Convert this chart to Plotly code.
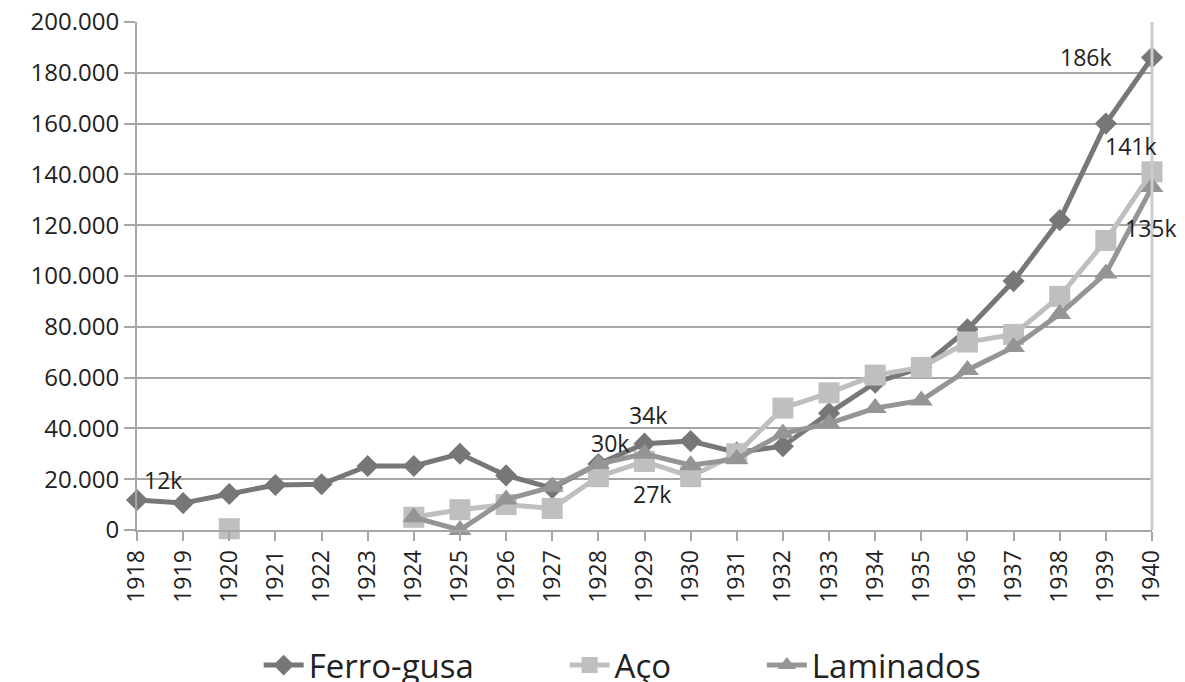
import plotly.graph_objects as go

years = list(range(1918, 1941))
ferro_gusa = [11800, 10600, 14200, 17700, 18000, 25200, 25200, 30000, 21500, 16500, 26000, 34000,
              35000, 30500, 33000, 46000, 58000, 64000, 79000, 98000, 122000, 160000, 186000]
aco = [None, None, 500, None, None, None, 5000, 8000, 10000, 8500, 21000, 27000,
       21000, 30000, 48000, 54000, 61000, 64000, 74000, 77000, 92000, 114000, 141000]
laminados = [None, None, None, None, None, None, 5000, 0, 12000, 17000, 26000, 30000,
             25500, 28000, 38000, 42000, 48000, 51000, 63000, 72000, 85000, 101000, 135000]

NB = "\u00a0"
series = [
    ("Ferro-gusa" + NB * 10, ferro_gusa, "#777777", "diamond", 17),
    ("Aço" + NB * 10, aco, "#bfbfbf", "square", 21),
    ("Laminados", laminados, "#959595", "triangle-up", 20),
]

fig = go.Figure()
for name, vals, color, sym, size in series:
    fig.add_trace(go.Scatter(
        x=years, y=vals, name=name, mode="lines+markers",
        line=dict(color=color, width=5),
        marker=dict(symbol=sym, size=size, color=color),
        cliponaxis=False, connectgaps=False,
    ))

# data labels: (series values, year, xshift, yshift, text)
labels = [
    (ferro_gusa, 1918, 26, 20, "12k"),
    (ferro_gusa, 1929, 3, 29, "34k"),
    (laminados, 1929, -35, 11, "30k"),
    (aco, 1929, 7, -33, "27k"),
    (ferro_gusa, 1940, -66, 1, "186k"),
    (aco, 1940, -21, 26, "141k"),
    (laminados, 1940, -1, -41, "135k"),
]
for vals, yr, xs, ys, txt in labels:
    fig.add_annotation(x=yr, y=vals[years.index(yr)], text=txt, showarrow=False,
                       xshift=xs, yshift=ys, font=dict(size=23, color="#222222"))

fig.update_layout(
    width=1177, height=674,
    margin=dict(l=129, r=33, t=14, b=152, autoexpand=False),
    paper_bgcolor="white", plot_bgcolor="white",
    font=dict(family="Open Sans", color="#222222"),
    separators=",.",
    showlegend=True,
    legend=dict(orientation="h", x=0.478, xanchor="center", y=-0.266, yanchor="middle",
                font=dict(size=33, color="#222222"), itemwidth=40, tracegroupgap=0,
                bgcolor="rgba(0,0,0,0)"),
    xaxis=dict(range=[1918, 1940], tickmode="array", tickvals=years,
               ticktext=[str(y) for y in years], tickangle=-90,
               tickfont=dict(size=23), ticks="outside", ticklen=9, tickcolor="#a6a6a6",
               tickwidth=2, showline=True, linecolor="#a6a6a6", linewidth=2, showgrid=False,
               mirror=False, zeroline=False, ticklabeloverflow="allow", automargin=False),
    yaxis=dict(range=[0, 200000], tickmode="linear", tick0=0, dtick=20000,
               tickformat=",d", tickfont=dict(size=24), ticks="outside", ticklen=11,
               tickwidth=2, tickcolor="#a6a6a6", showline=True, linecolor="#a6a6a6", linewidth=2,
               showgrid=True, gridcolor="#a6a6a6", gridwidth=2, zeroline=False,
               ticklabeloverflow="allow", automargin=False),
)
fig.add_shape(type="line", xref="paper", yref="paper", x0=1, x1=1, y0=0, y1=1,
              line=dict(color="#cccccc", width=3))

fig.write_html("out.html")
